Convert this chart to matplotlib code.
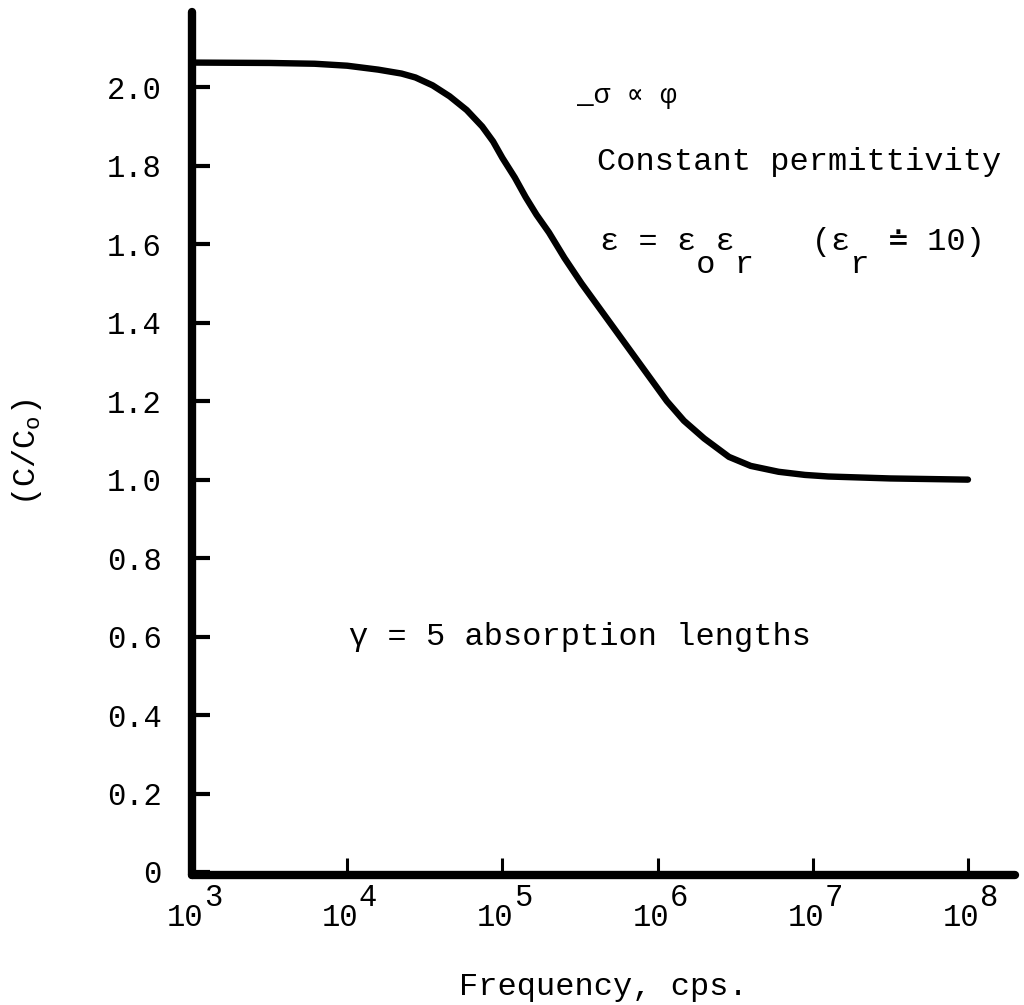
import numpy as np
import matplotlib
matplotlib.use("Agg")
import matplotlib.pyplot as plt

# ----- data -----
# frequency as log10(cps)
log_freq = [3.0, 3.5, 3.79, 4.0, 4.2, 4.35, 4.44, 4.55, 4.66, 4.77, 4.87, 4.94,
            5.0, 5.08, 5.15, 5.22, 5.30, 5.40, 5.51, 5.62, 5.73, 5.84, 5.95,
            6.06, 6.17, 6.30, 6.46, 6.60, 6.78, 6.95, 7.1, 7.5, 8.0]
ratio = [2.063, 2.062, 2.060, 2.055, 2.045, 2.035, 2.025, 2.005, 1.977, 1.942,
         1.900, 1.862, 1.820, 1.770, 1.720, 1.675, 1.630, 1.565, 1.500, 1.440,
         1.380, 1.320, 1.260, 1.200, 1.150, 1.105, 1.058, 1.035, 1.020, 1.012,
         1.008, 1.003, 1.000]
yticks = [0, 0.2, 0.4, 0.6, 0.8, 1.0, 1.2, 1.4, 1.6, 1.8, 2.0]
ytick_labels = ["0", "0.2", "0.4", "0.6", "0.8", "1.0", "1.2", "1.4", "1.6", "1.8", "2.0"]
xticks = [1e3, 1e4, 1e5, 1e6, 1e7, 1e8]
xtick_exps = ["3", "4", "5", "6", "7", "8"]

freq = 10 ** np.array(log_freq)

mono = ["Liberation Mono", "DejaVu Sans Mono", "DejaVu Sans"]
plt.rcParams["font.family"] = mono
plt.rcParams["mathtext.fontset"] = "custom"
plt.rcParams["mathtext.rm"] = "Liberation Mono"
plt.rcParams["mathtext.it"] = "Liberation Mono"

fig = plt.figure(figsize=(10.24, 10.05), dpi=100)
ax = fig.add_axes([0.1875, 0.1294, 0.8037, 0.8587])

ax.plot(freq, ratio, color="black", linewidth=4.6, solid_capstyle="round",
        solid_joinstyle="round")

ax.set_xscale("log")
ax.set_xlim(1e3, 10 ** 8.303)
ax.set_ylim(-0.0076, 2.192)

for side in ["top", "right"]:
    ax.spines[side].set_visible(False)
for side in ["left", "bottom"]:
    ax.spines[side].set_linewidth(6)
    ax.spines[side].set_capstyle("round")

ax.set_yticks(yticks)
ax.set_yticklabels(ytick_labels, fontsize=22)
ax.set_xticks(xticks)
ax.set_xticklabels([])
ax.minorticks_off()
ax.tick_params(axis="y", direction="in", length=13, width=3, pad=22)
ax.tick_params(axis="x", direction="in", length=12, width=2.2)

# typewriter style tick labels: "10" with a full size exponent
for v, e in zip(xticks, xtick_exps):
    ax.annotate("10", xy=(v, 0), xycoords=("data", "axes fraction"),
                xytext=(-5, -37), textcoords="offset points",
                ha="center", va="baseline", fontsize=22)
    ax.annotate(e, xy=(v, 0), xycoords=("data", "axes fraction"),
                xytext=(15, -22), textcoords="offset points",
                ha="center", va="baseline", fontsize=22)

fig.text(603 / 1024, 1 - 987 / 1005, "Frequency, cps.", fontsize=23,
         ha="center", va="center")
fig.text(27 / 1024, 1 - 453 / 1005, r"$(C/C_o)$", fontsize=23,
         rotation=90, ha="center", va="center")

# annotations, typed in monospace cells like the original
ax.text(10 ** 5.48, 1.977, "_σ ∝ φ", fontsize=20, va="center")
ax.text(10 ** 5.61, 1.81, "Constant permittivity", fontsize=23, va="center")
ax.text(10 ** 5.629, 1.605, "ε = ε ε    (ε  ≐ 10)", fontsize=23, va="center")
ax.text(10 ** 5.629, 1.548, "     o r     r", fontsize=23, va="center")
ax.text(10 ** 4.01, 0.60, "γ = 5 absorption lengths", fontsize=23, va="center")

fig.savefig("out.png", dpi=100)
